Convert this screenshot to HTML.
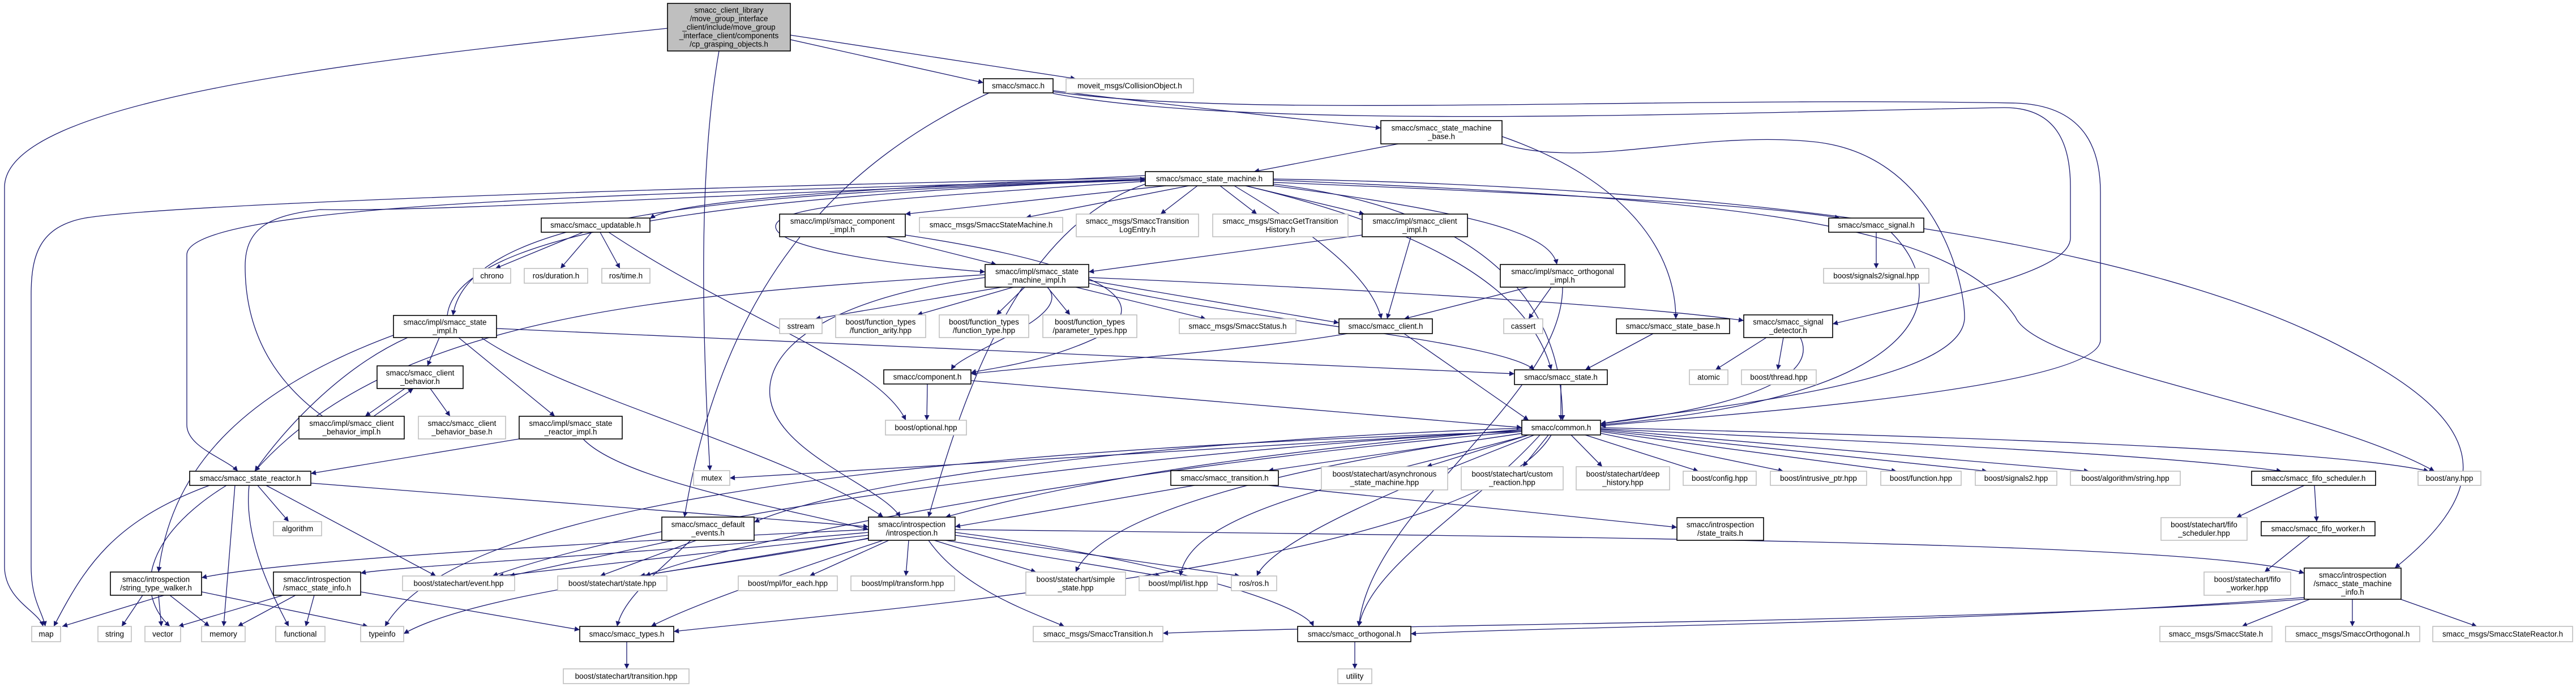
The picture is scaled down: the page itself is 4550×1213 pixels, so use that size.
<!DOCTYPE html>
<html><head><meta charset="utf-8"><style>
html,body{margin:0;padding:0;background:#fff;}
svg{display:block;}
text{font-family:"Liberation Sans",sans-serif;font-size:13.5px;fill:#000;text-anchor:middle;dominant-baseline:central;}
.e{fill:none;stroke:#191970;stroke-width:1.3;marker-end:url(#a);}
.b{fill:#fff;stroke:#000;stroke-width:1.6;}
.g{fill:#fff;stroke:#bfbfbf;stroke-width:1.6;}
</style></head><body>
<svg width="4550" height="1213" viewBox="0 0 4550 1213" xmlns="http://www.w3.org/2000/svg">
<defs><marker id="a" viewBox="0 0 10 10" refX="10" refY="5" markerWidth="11" markerHeight="9" markerUnits="userSpaceOnUse" orient="auto"><path d="M0,0L10,5L0,10z" fill="#191970"/></marker></defs>
<g>
<path class="e" d="M1179,50 C600,110 10,180 8,330 L8,1000 C8,1060 70,1080 76,1106"/>
<path class="e" d="M1396,70 L1737,146"/>
<path class="e" d="M1396,62 L1900,139"/>
<path class="e" d="M1270,90 C1240,260 1235,500 1254,831"/>
<path class="e" d="M1860,160 C2100,190 2300,210 2439,226"/>
<path class="e" d="M1860,162 C2200,210 2900,170 3560,182 C3680,186 3710,260 3710,340 L3710,600 C3710,690 3000,735 2827,752"/>
<path class="e" d="M1860,165 C2200,230 3000,200 3540,190 C3630,190 3657,250 3657,330 L3657,420 C3657,480 3450,520 3237,572"/>
<path class="e" d="M1747,164 C1500,280 1280,480 1209,913"/>
<path class="e" d="M2470,254 L2215,303"/>
<path class="e" d="M2653,241 C2880,320 2960,450 2960,563"/>
<path class="e" d="M2653,254 C2800,300 3000,230 3200,250 C3420,270 3470,500 3470,560 C3470,680 3000,720 2827,748"/>
<path class="e" d="M2023,310 C1600,330 1200,350 1148,386"/>
<path class="e" d="M2060,328 L1599,378"/>
<path class="e" d="M2100,328 L1812,384"/>
<path class="e" d="M2115,328 L2050,378"/>
<path class="e" d="M2155,328 L2220,378"/>
<path class="e" d="M2200,328 L2410,378"/>
<path class="e" d="M2249,322 C2700,340 3100,360 3250,385"/>
<path class="e" d="M2249,328 C2650,380 2740,420 2750,467"/>
<path class="e" d="M2023,320 C1600,350 1370,360 1370,400 C1370,440 1600,470 1740,480"/>
<path class="e" d="M2023,318 C1400,340 830,360 800,557"/>
<path class="e" d="M790,557 C810,380 1500,340 2023,316"/>
<path class="e" d="M2023,316 C1300,340 330,350 330,450 L330,750 C330,790 400,810 420,832"/>
<path class="e" d="M2023,314 C1200,330 300,360 150,385 C70,400 55,450 55,520 L55,1000 C55,1060 75,1080 80,1106"/>
<path class="e" d="M570,735 C440,640 433,520 433,470 C433,400 480,380 565,370 C800,375 1500,330 2023,318"/>
<path class="e" d="M2180,328 C2300,400 2420,480 2440,563"/>
<path class="e" d="M2200,328 C2500,400 2700,500 2740,653"/>
<path class="e" d="M2249,325 C2700,380 2760,600 2760,742"/>
<path class="e" d="M2249,318 C3000,350 3440,380 3560,560 C3600,650 4100,720 4300,832"/>
<path class="e" d="M2249,316 C3100,330 3800,430 4150,620 C4380,740 4420,850 4230,1003"/>
<path class="e" d="M2023,325 C1800,400 1700,700 1640,913"/>
<path class="e" d="M1030,410 L875,474"/>
<path class="e" d="M1045,410 L990,474"/>
<path class="e" d="M1060,410 L1095,474"/>
<path class="e" d="M1075,410 C1300,560 1550,640 1600,742"/>
<path class="e" d="M1565,418 L1760,467"/>
<path class="e" d="M1599,415 C1900,460 2050,520 1950,590 C1850,640 1750,650 1715,658"/>
<path class="e" d="M2406,415 L1923,480"/>
<path class="e" d="M2492,418 L2450,563"/>
<path class="e" d="M1770,507 L1440,563"/>
<path class="e" d="M1790,507 L1620,556"/>
<path class="e" d="M1810,507 L1760,556"/>
<path class="e" d="M1850,507 L1890,556"/>
<path class="e" d="M1900,507 L2130,563"/>
<path class="e" d="M1923,495 L2365,570"/>
<path class="e" d="M1923,500 C2150,560 2650,600 2710,653"/>
<path class="e" d="M1923,490 C2400,510 2900,540 3080,566"/>
<path class="e" d="M1740,490 C1500,520 1350,600 1360,700 C1370,800 1560,860 1590,913"/>
<path class="e" d="M1850,507 C1900,560 1700,620 1680,653"/>
<path class="e" d="M1740,485 C1200,520 700,550 450,832"/>
<path class="e" d="M2700,507 L2480,563"/>
<path class="e" d="M2740,507 L2700,563"/>
<path class="e" d="M2760,507 C2760,700 2420,900 2400,1106"/>
<path class="e" d="M3314,410 L3314,474"/>
<path class="e" d="M3340,410 C3450,520 3420,700 2827,750"/>
<path class="e" d="M776,596 L755,646"/>
<path class="e" d="M810,596 L980,735"/>
<path class="e" d="M720,596 C600,650 500,760 450,832"/>
<path class="e" d="M700,590 C400,700 300,850 280,1010"/>
<path class="e" d="M877,580 L2675,660"/>
<path class="e" d="M850,596 C1000,700 1400,800 1560,913"/>
<path class="e" d="M2380,589 C2200,620 1900,640 1715,660"/>
<path class="e" d="M2480,589 L2700,742"/>
<path class="e" d="M2920,589 L2800,653"/>
<path class="e" d="M3120,596 L3030,653"/>
<path class="e" d="M3150,596 L3140,653"/>
<path class="e" d="M3180,596 C3230,700 2900,740 2827,748"/>
<path class="e" d="M715,686 L645,735"/>
<path class="e" d="M660,735 L730,686"/>
<path class="e" d="M760,686 L795,735"/>
<path class="e" d="M917,775 L549,836"/>
<path class="e" d="M1030,775 C1100,850 1400,900 1534,935"/>
<path class="e" d="M1638,678 L1637,742"/>
<path class="e" d="M1715,672 L2688,755"/>
<path class="e" d="M2757,679 L2757,742"/>
<path class="e" d="M2688,760 L1289,844"/>
<path class="e" d="M2690,765 L2240,831"/>
<path class="e" d="M2700,768 L2520,824"/>
<path class="e" d="M2735,768 L2690,824"/>
<path class="e" d="M2775,768 L2830,824"/>
<path class="e" d="M2800,768 L3000,832"/>
<path class="e" d="M2827,765 L3150,832"/>
<path class="e" d="M2827,762 L3350,832"/>
<path class="e" d="M2827,760 L3510,832"/>
<path class="e" d="M2827,758 L3690,832"/>
<path class="e" d="M2827,757 C3300,780 3800,800 4030,832"/>
<path class="e" d="M2827,755 C3400,770 4100,790 4290,832"/>
<path class="e" d="M2688,758 C2200,800 1900,850 1670,913"/>
<path class="e" d="M2688,756 C2000,780 1500,850 1332,922"/>
<path class="e" d="M2688,760 C2000,800 1200,900 870,1017"/>
<path class="e" d="M2688,762 C2000,820 1300,950 1140,1017"/>
<path class="e" d="M2690,765 C2300,820 1950,900 1900,1010"/>
<path class="e" d="M2700,768 C2400,850 2100,900 2085,1017"/>
<path class="e" d="M2710,768 C2500,850 2250,950 2220,1017"/>
<path class="e" d="M2720,768 C2600,900 2420,1000 2400,1106"/>
<path class="e" d="M2740,768 C2600,1000 1500,1080 1190,1115"/>
<path class="e" d="M2688,762 C1500,800 800,900 680,1106"/>
<path class="e" d="M370,857 C200,920 150,1000 95,1106"/>
<path class="e" d="M400,857 C250,950 240,1050 300,1106"/>
<path class="e" d="M415,857 L395,1106"/>
<path class="e" d="M440,857 C430,950 480,1050 510,1106"/>
<path class="e" d="M455,857 L510,921"/>
<path class="e" d="M470,857 L770,1017"/>
<path class="e" d="M549,853 L1534,930"/>
<path class="e" d="M2110,857 L1687,930"/>
<path class="e" d="M2240,857 L2962,931"/>
<path class="e" d="M1190,954 L900,1017"/>
<path class="e" d="M1230,954 L1060,1017"/>
<path class="e" d="M1220,954 C1150,1020 1100,1060 1090,1106"/>
<path class="e" d="M1534,935 C1000,960 500,990 356,1020"/>
<path class="e" d="M1534,940 C1100,980 700,1000 637,1012"/>
<path class="e" d="M1534,945 L880,1017"/>
<path class="e" d="M1540,950 L1130,1017"/>
<path class="e" d="M1570,954 L1430,1017"/>
<path class="e" d="M1605,954 L1600,1017"/>
<path class="e" d="M1650,954 L1830,1010"/>
<path class="e" d="M1670,954 L2050,1017"/>
<path class="e" d="M1687,945 L2190,1017"/>
<path class="e" d="M1640,954 C1700,1040 1820,1080 1880,1106"/>
<path class="e" d="M1560,954 C1300,1040 1200,1080 1150,1106"/>
<path class="e" d="M1534,950 C1300,1000 850,1040 713,1119"/>
<path class="e" d="M1687,935 C3000,950 3900,960 4070,1012"/>
<path class="e" d="M1687,940 C2000,980 2300,1060 2320,1106"/>
<path class="e" d="M4070,857 L3950,914"/>
<path class="e" d="M4088,857 L4092,921"/>
<path class="e" d="M4080,946 L4000,1010"/>
<path class="e" d="M4080,1058 L3960,1106"/>
<path class="e" d="M4155,1058 L4155,1106"/>
<path class="e" d="M4240,1058 L4375,1106"/>
<path class="e" d="M4070,1055 C3500,1100 2800,1105 2492,1119"/>
<path class="e" d="M4070,1058 C3500,1100 2500,1100 2054,1118"/>
<path class="e" d="M290,1051 L110,1106"/>
<path class="e" d="M252,1051 L215,1106"/>
<path class="e" d="M280,1051 L285,1106"/>
<path class="e" d="M300,1051 L370,1106"/>
<path class="e" d="M356,1045 L650,1106"/>
<path class="e" d="M500,1051 L315,1106"/>
<path class="e" d="M522,1051 L420,1106"/>
<path class="e" d="M555,1051 L540,1106"/>
<path class="e" d="M637,1045 L1024,1112"/>
<path class="e" d="M1107,1133 L1107,1181"/>
<path class="e" d="M2393,1133 L2393,1181"/>
</g>
<g>
<rect x="1179" y="6" width="217" height="84" fill="#bfbfbf" stroke="#000" stroke-width="1.6"/>
<text x="1287.5" y="18">smacc_client_library</text><text x="1287.5" y="33">/move_group_interface</text><text x="1287.5" y="48">_client/include/move_group</text><text x="1287.5" y="63">_interface_client/components</text><text x="1287.5" y="78">/cp_grasping_objects.h</text>

<rect class="b" x="1737" y="139" width="123" height="25"/><text x="1798.5" y="151.5">smacc/smacc.h</text>
<rect class="g" x="1883" y="139" width="225" height="25"/><text x="1995.5" y="151.5">moveit_msgs/CollisionObject.h</text>
<rect class="b" x="2439" y="213" width="214" height="41"/><text x="2546" y="226">smacc/smacc_state_machine</text><text x="2546" y="241">_base.h</text>
<rect class="b" x="2023" y="303" width="226" height="25"/><text x="2136" y="315.5">smacc/smacc_state_machine.h</text>
<rect class="b" x="956" y="385" width="192" height="25"/><text x="1052" y="397.5">smacc/smacc_updatable.h</text>
<rect class="b" x="1377" y="378" width="222" height="40"/><text x="1488" y="390.5">smacc/impl/smacc_component</text><text x="1488" y="405.5">_impl.h</text>
<rect class="g" x="1624" y="384" width="253" height="26"/><text x="1750.5" y="397">smacc_msgs/SmaccStateMachine.h</text>
<rect class="g" x="1901" y="378" width="216" height="40"/><text x="2009" y="390.5">smacc_msgs/SmaccTransition</text><text x="2009" y="405.5">LogEntry.h</text>
<rect class="g" x="2142" y="378" width="239" height="40"/><text x="2261.5" y="390.5">smacc_msgs/SmaccGetTransition</text><text x="2261.5" y="405.5">History.h</text>
<rect class="b" x="2406" y="378" width="186" height="40"/><text x="2499" y="390.5">smacc/impl/smacc_client</text><text x="2499" y="405.5">_impl.h</text>
<rect class="b" x="3230" y="385" width="168" height="25"/><text x="3314" y="397.5">smacc/smacc_signal.h</text>
<rect class="g" x="836" y="474" width="66" height="26"/><text x="869" y="487">chrono</text>
<rect class="g" x="926" y="474" width="112" height="26"/><text x="982" y="487">ros/duration.h</text>
<rect class="g" x="1063" y="474" width="85" height="26"/><text x="1105.5" y="487">ros/time.h</text>
<rect class="b" x="1740" y="467" width="183" height="40"/><text x="1831.5" y="479.5">smacc/impl/smacc_state</text><text x="1831.5" y="494.5">_machine_impl.h</text>
<rect class="b" x="2650" y="467" width="220" height="40"/><text x="2760" y="479.5">smacc/impl/smacc_orthogonal</text><text x="2760" y="494.5">_impl.h</text>
<rect class="g" x="3221" y="474" width="186" height="26"/><text x="3314" y="487">boost/signals2/signal.hpp</text>
<rect class="b" x="695" y="557" width="182" height="39"/><text x="786" y="569">smacc/impl/smacc_state</text><text x="786" y="584">_impl.h</text>
<rect class="g" x="1377" y="563" width="75" height="26"/><text x="1414.5" y="576">sstream</text>
<rect class="g" x="1476" y="556" width="159" height="40"/><text x="1555.5" y="568.5">boost/function_types</text><text x="1555.5" y="583.5">/function_arity.hpp</text>
<rect class="g" x="1659" y="556" width="158" height="40"/><text x="1738" y="568.5">boost/function_types</text><text x="1738" y="583.5">/function_type.hpp</text>
<rect class="g" x="1842" y="556" width="166" height="40"/><text x="1925" y="568.5">boost/function_types</text><text x="1925" y="583.5">/parameter_types.hpp</text>
<rect class="g" x="2083" y="563" width="206" height="26"/><text x="2186" y="576">smacc_msgs/SmaccStatus.h</text>
<rect class="b" x="2365" y="563" width="165" height="26"/><text x="2447.5" y="576">smacc/smacc_client.h</text>
<rect class="g" x="2656" y="563" width="69" height="26"/><text x="2690.5" y="576">cassert</text>
<rect class="b" x="2855" y="563" width="200" height="26"/><text x="2955" y="576">smacc/smacc_state_base.h</text>
<rect class="b" x="3080" y="556" width="157" height="40"/><text x="3158.5" y="568.5">smacc/smacc_signal</text><text x="3158.5" y="583.5">_detector.h</text>
<rect class="b" x="666" y="646" width="152" height="40"/><text x="742" y="658.5">smacc/smacc_client</text><text x="742" y="673.5">_behavior.h</text>
<rect class="b" x="1561" y="653" width="154" height="25"/><text x="1638" y="665.5">smacc/component.h</text>
<rect class="b" x="2675" y="653" width="164" height="26"/><text x="2757" y="666">smacc/smacc_state.h</text>
<rect class="g" x="2984" y="653" width="68" height="26"/><text x="3018" y="666">atomic</text>
<rect class="g" x="3076" y="653" width="132" height="26"/><text x="3142" y="666">boost/thread.hpp</text>
<rect class="b" x="528" y="735" width="186" height="40"/><text x="621" y="747.5">smacc/impl/smacc_client</text><text x="621" y="762.5">_behavior_impl.h</text>
<rect class="g" x="739" y="735" width="154" height="40"/><text x="816" y="747.5">smacc/smacc_client</text><text x="816" y="762.5">_behavior_base.h</text>
<rect class="b" x="917" y="735" width="182" height="40"/><text x="1008" y="747.5">smacc/impl/smacc_state</text><text x="1008" y="762.5">_reactor_impl.h</text>
<rect class="g" x="1564" y="742" width="143" height="26"/><text x="1635.5" y="755">boost/optional.hpp</text>
<rect class="b" x="2688" y="742" width="139" height="26"/><text x="2757.5" y="755">smacc/common.h</text>
<rect class="b" x="335" y="832" width="214" height="25"/><text x="442" y="844.5">smacc/smacc_state_reactor.h</text>
<rect class="g" x="1225" y="831" width="64" height="26"/><text x="1257" y="844">mutex</text>
<rect class="b" x="2068" y="831" width="190" height="26"/><text x="2163" y="844">smacc/smacc_transition.h</text>
<rect class="g" x="2334" y="824" width="223" height="41"/><text x="2445.5" y="837">boost/statechart/asynchronous</text><text x="2445.5" y="852">_state_machine.hpp</text>
<rect class="g" x="2581" y="824" width="180" height="41"/><text x="2671" y="837">boost/statechart/custom</text><text x="2671" y="852">_reaction.hpp</text>
<rect class="g" x="2784" y="824" width="165" height="41"/><text x="2866.5" y="837">boost/statechart/deep</text><text x="2866.5" y="852">_history.hpp</text>
<rect class="g" x="2973" y="832" width="129" height="25"/><text x="3037.5" y="844.5">boost/config.hpp</text>
<rect class="g" x="3127" y="832" width="170" height="25"/><text x="3212" y="844.5">boost/intrusive_ptr.hpp</text>
<rect class="g" x="3322" y="832" width="142" height="25"/><text x="3393" y="844.5">boost/function.hpp</text>
<rect class="g" x="3489" y="832" width="144" height="25"/><text x="3561" y="844.5">boost/signals2.hpp</text>
<rect class="g" x="3657" y="832" width="194" height="25"/><text x="3754" y="844.5">boost/algorithm/string.hpp</text>
<rect class="b" x="3977" y="832" width="219" height="25"/><text x="4086.5" y="844.5">smacc/smacc_fifo_scheduler.h</text>
<rect class="g" x="4271" y="832" width="111" height="25"/><text x="4326.5" y="844.5">boost/any.hpp</text>
<rect class="g" x="483" y="921" width="85" height="25"/><text x="525.5" y="933.5">algorithm</text>
<rect class="b" x="1169" y="913" width="163" height="41"/><text x="1250.5" y="926">smacc/smacc_default</text><text x="1250.5" y="941">_events.h</text>
<rect class="b" x="1534" y="913" width="153" height="41"/><text x="1610.5" y="926">smacc/introspection</text><text x="1610.5" y="941">/introspection.h</text>
<rect class="b" x="2962" y="914" width="153" height="40"/><text x="3038.5" y="926.5">smacc/introspection</text><text x="3038.5" y="941.5">/state_traits.h</text>
<rect class="g" x="3817" y="914" width="152" height="40"/><text x="3893" y="926.5">boost/statechart/fifo</text><text x="3893" y="941.5">_scheduler.hpp</text>
<rect class="b" x="3994" y="921" width="201" height="25"/><text x="4094.5" y="933.5">smacc/smacc_fifo_worker.h</text>
<rect class="b" x="195" y="1010" width="161" height="41"/><text x="275.5" y="1023">smacc/introspection</text><text x="275.5" y="1038">/string_type_walker.h</text>
<rect class="b" x="483" y="1010" width="154" height="41"/><text x="560" y="1023">smacc/introspection</text><text x="560" y="1038">/smacc_state_info.h</text>
<rect class="g" x="711" y="1017" width="198" height="26"/><text x="810" y="1030">boost/statechart/event.hpp</text>
<rect class="g" x="985" y="1017" width="193" height="26"/><text x="1081.5" y="1030">boost/statechart/state.hpp</text>
<rect class="g" x="1304" y="1017" width="175" height="26"/><text x="1391.5" y="1030">boost/mpl/for_each.hpp</text>
<rect class="g" x="1503" y="1017" width="183" height="26"/><text x="1594.5" y="1030">boost/mpl/transform.hpp</text>
<rect class="g" x="1812" y="1010" width="176" height="41"/><text x="1900" y="1023">boost/statechart/simple</text><text x="1900" y="1038">_state.hpp</text>
<rect class="g" x="2012" y="1017" width="138" height="26"/><text x="2081" y="1030">boost/mpl/list.hpp</text>
<rect class="g" x="2175" y="1017" width="80" height="26"/><text x="2215" y="1030">ros/ros.h</text>
<rect class="g" x="3893" y="1010" width="153" height="41"/><text x="3969.5" y="1023">boost/statechart/fifo</text><text x="3969.5" y="1038">_worker.hpp</text>
<rect class="b" x="4070" y="1003" width="171" height="55"/><text x="4155.5" y="1015.5">smacc/introspection</text><text x="4155.5" y="1030.5">/smacc_state_machine</text><text x="4155.5" y="1045.5">_info.h</text>
<rect class="g" x="56" y="1106" width="51" height="27"/><text x="81.5" y="1119.5">map</text>
<rect class="g" x="173" y="1106" width="59" height="27"/><text x="202.5" y="1119.5">string</text>
<rect class="g" x="256" y="1106" width="63" height="27"/><text x="287.5" y="1119.5">vector</text>
<rect class="g" x="356" y="1106" width="77" height="27"/><text x="394.5" y="1119.5">memory</text>
<rect class="g" x="487" y="1106" width="87" height="27"/><text x="530.5" y="1119.5">functional</text>
<rect class="g" x="637" y="1106" width="76" height="27"/><text x="675" y="1119.5">typeinfo</text>
<rect class="b" x="1024" y="1106" width="166" height="27"/><text x="1107" y="1119.5">smacc/smacc_types.h</text>
<rect class="g" x="1825" y="1106" width="229" height="27"/><text x="1939.5" y="1119.5">smacc_msgs/SmaccTransition.h</text>
<rect class="b" x="2292" y="1106" width="200" height="27"/><text x="2392" y="1119.5">smacc/smacc_orthogonal.h</text>
<rect class="g" x="3815" y="1106" width="198" height="27"/><text x="3914" y="1119.5">smacc_msgs/SmaccState.h</text>
<rect class="g" x="4037" y="1106" width="237" height="27"/><text x="4155.5" y="1119.5">smacc_msgs/SmaccOrthogonal.h</text>
<rect class="g" x="4297" y="1106" width="247" height="27"/><text x="4420.5" y="1119.5">smacc_msgs/SmaccStateReactor.h</text>
<rect class="g" x="995" y="1181" width="222" height="26"/><text x="1106" y="1194">boost/statechart/transition.hpp</text>
<rect class="g" x="2363" y="1181" width="60" height="26"/><text x="2393" y="1194">utility</text>
</g>
</svg>
</body></html>
